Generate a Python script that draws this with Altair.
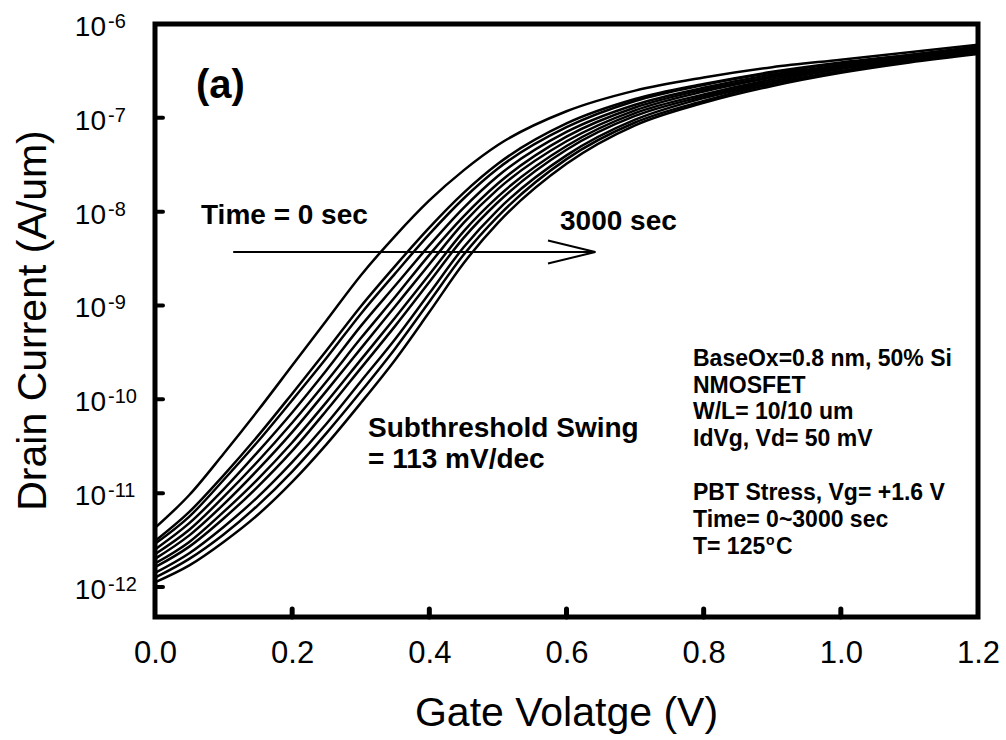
import altair as alt
import pandas as pd

FONT = "Liberation Sans"

# Gate voltage grid (V)
VG = [0.0, 0.05, 0.1, 0.15, 0.2, 0.25, 0.3, 0.35, 0.4, 0.45, 0.5, 0.6, 0.7, 0.8, 0.9, 1.0, 1.1, 1.2]

# log10 of drain current (A/um), one list per stress time (0 ... 3000 sec)
C01 = [-11.37, -11.02, -10.58, -10.12, -9.64, -9.16, -8.68, -8.26, -7.88, -7.56, -7.29, -6.93, -6.71, -6.57, -6.46, -6.38, -6.30, -6.22]
C02 = [-11.51, -11.20, -10.81, -10.39, -9.94, -9.48, -9.01, -8.58, -8.17, -7.80, -7.49, -7.06, -6.80, -6.64, -6.51, -6.41, -6.33, -6.24]
C03 = [-11.54, -11.25, -10.86, -10.45, -10.01, -9.56, -9.09, -8.66, -8.24, -7.86, -7.54, -7.10, -6.82, -6.65, -6.52, -6.42, -6.33, -6.25]
C04 = [-11.60, -11.32, -10.96, -10.56, -10.14, -9.69, -9.22, -8.79, -8.36, -7.96, -7.62, -7.15, -6.86, -6.68, -6.54, -6.44, -6.34, -6.26]
C05 = [-11.65, -11.39, -11.04, -10.66, -10.25, -9.81, -9.35, -8.91, -8.46, -8.05, -7.70, -7.20, -6.89, -6.70, -6.56, -6.45, -6.35, -6.27]
C06 = [-11.70, -11.45, -11.12, -10.75, -10.35, -9.91, -9.46, -9.01, -8.56, -8.12, -7.76, -7.25, -6.92, -6.72, -6.57, -6.46, -6.36, -6.28]
C07 = [-11.75, -11.52, -11.20, -10.85, -10.46, -10.03, -9.58, -9.13, -8.67, -8.21, -7.84, -7.30, -6.95, -6.75, -6.59, -6.47, -6.37, -6.29]
C08 = [-11.79, -11.57, -11.27, -10.93, -10.55, -10.12, -9.67, -9.22, -8.75, -8.28, -7.90, -7.34, -6.98, -6.77, -6.61, -6.48, -6.38, -6.29]
C09 = [-11.85, -11.64, -11.36, -11.04, -10.67, -10.26, -9.81, -9.36, -8.87, -8.38, -7.98, -7.40, -7.02, -6.79, -6.63, -6.50, -6.39, -6.30]
C10 = [-11.90, -11.70, -11.44, -11.13, -10.77, -10.36, -9.92, -9.46, -8.96, -8.46, -8.05, -7.44, -7.05, -6.82, -6.64, -6.51, -6.40, -6.31]
C11 = [-11.95, -11.77, -11.52, -11.23, -10.88, -10.48, -10.04, -9.58, -9.07, -8.55, -8.12, -7.49, -7.08, -6.84, -6.66, -6.52, -6.41, -6.32]
CURVES = [C01, C02, C03, C04, C05, C06, C07, C08, C09, C10, C11]

X_TICKS = [0.0, 0.2, 0.4, 0.6, 0.8, 1.0, 1.2]
X_INNER_TICKS = [0.2, 0.4, 0.6, 0.8, 1.0]
Y_EXP = [-12, -11, -10, -9, -8, -7, -6]

# arrow (Vg, Id)
ARROW_V = [0.114, 0.642]
ARROW_I = [3.715e-9, 3.715e-9]
HEAD_V = [0.573, 0.642, 0.573]
HEAD_I = [4.93e-9, 3.715e-9, 2.80e-9]

rows = []
for k, vals in enumerate(CURVES):
    for v, lg in zip(VG, vals):
        rows.append({"curve": k, "Vg": v, "Id": 10.0 ** lg})
df = pd.DataFrame(rows)

xs = alt.Scale(domain=[0, 1.2], nice=False, zero=False)
ys = alt.Scale(type="log", domain=[10 ** -12.32, 1e-6], nice=False)

X_AXIS = alt.Axis(
    values=X_TICKS, format=".1f", labelFontSize=31, labelFont=FONT,
    labelColor="black", labelPadding=21, ticks=False, tickSize=0,
    domain=False, grid=False, labelFlush=False, labelOverlap=False,
    title="Gate Volatge (V)", titleFont=FONT, titleFontSize=41,
    titleFontWeight="normal", titleColor="black", titleX=411, titleY=108,
    titleBaseline="alphabetic", titleAlign="center")
Y_AXIS = alt.Axis(
    labels=False, ticks=False, tickSize=0, domain=False, grid=False,
    title="Drain Current (A/um)", titleFont=FONT, titleFontSize=41,
    titleFontWeight="normal", titleColor="black", titleX=-122, titleY=296,
    titleBaseline="middle", titleAlign="center", titleAngle=270)


def X(field):
    return alt.X(field, scale=xs, axis=X_AXIS)


def Y(field):
    return alt.Y(field, scale=ys, axis=Y_AXIS)


lines = alt.Chart(df).mark_line(
    color="black", strokeWidth=2.5, interpolate="monotone", clip=True
).encode(x=X("Vg:Q"), y=Y("Id:Q"), detail="curve:N")

ytick_df = pd.DataFrame({"val": [10.0 ** e for e in Y_EXP[:-1]]})
yticks = alt.Chart(ytick_df).mark_rule(color="black", strokeWidth=4, strokeCap="round").encode(
    y=Y("val:Q"), x=alt.value(0), x2=alt.value(8))

xtick_df = pd.DataFrame({"v": X_INNER_TICKS})
xticks = alt.Chart(xtick_df).mark_rule(color="black", strokeWidth=5, strokeCap="round").encode(
    x=X("v:Q"), y=alt.value(593), y2=alt.value(585))

ylab_df = pd.DataFrame({"val": [10.0 ** e for e in Y_EXP], "exp": [str(e) for e in Y_EXP]})
ybase = alt.Chart(ylab_df).mark_text(
    align="right", baseline="alphabetic", font=FONT, fontSize=28, dy=12, color="black"
).encode(y=Y("val:Q"), x=alt.value(-49), text=alt.value("10"))
yexp = alt.Chart(ylab_df).mark_text(
    align="left", baseline="alphabetic", font=FONT, fontSize=20, dy=4, color="black"
).encode(y=Y("val:Q"), x=alt.value(-47), text="exp:N")

one = pd.DataFrame({"k": [0]})


def note(txt, x, y, size, weight="bold", lh=None):
    kw = dict(align="left", baseline="alphabetic", font=FONT, fontSize=size,
              fontWeight=weight, color="black")
    if lh is not None:
        kw["lineHeight"] = lh
    return alt.Chart(one).mark_text(**kw).encode(
        x=alt.value(x), y=alt.value(y), text=alt.value(txt))


notes = [
    note("(a)", 41, 74, 40),
    note("Time = 0 sec", 46, 200, 28),
    note("3000 sec", 405, 206, 28),
    note(["Subthreshold Swing", "= 113 mV/dec"], 213, 413, 28, lh=31),
    note(["BaseOx=0.8 nm, 50% Si", "NMOSFET", "W/L= 10/10 um", "IdVg, Vd= 50 mV"],
         538, 342, 23, lh=26.5),
    note(["PBT Stress, Vg= +1.6 V", "Time= 0~3000 sec"], 538, 476, 23, lh=26.5),
    note("T= 125", 538, 530, 23),
    note("o", 611, 521, 14),
    note("C", 621, 530, 23),
]

arrow = alt.Chart(pd.DataFrame({"Vg": ARROW_V, "Id": ARROW_I})).mark_line(
    color="black", strokeWidth=2
).encode(x=X("Vg:Q"), y=Y("Id:Q"))

head = alt.Chart(pd.DataFrame({"Vg": HEAD_V, "Id": HEAD_I, "o": [0, 1, 2]})).mark_line(
    color="black", strokeWidth=2
).encode(x=X("Vg:Q"), y=Y("Id:Q"), order="o:Q")

chart = alt.layer(lines, yticks, xticks, ybase, yexp, arrow, head, *notes).properties(
    width=823, height=593,
    autosize=alt.AutoSizeParams(type="none"),
    padding={"left": 155, "top": 24, "right": 28, "bottom": 123},
    background="white",
).configure_view(stroke="black", strokeWidth=5)

chart.save("out.html", embed_options={"renderer": "svg", "actions": False})
